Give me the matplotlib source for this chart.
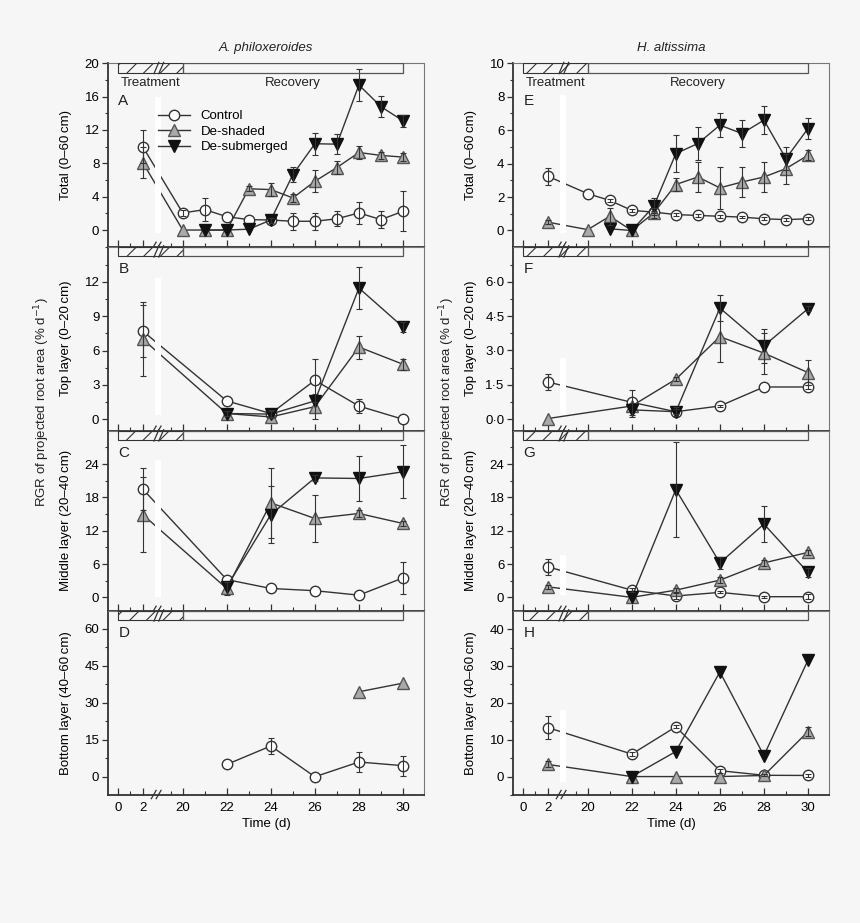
import numpy as np
import matplotlib
matplotlib.use('Agg')
import matplotlib.pyplot as plt
from matplotlib.patches import Rectangle
from matplotlib.lines import Line2D
from matplotlib.ticker import FixedLocator, FuncFormatter

plt.rcParams['font.family'] = ['Liberation Sans', 'DejaVu Sans']
plt.rcParams['hatch.linewidth'] = 0.8

nan = np.nan

# 날짜 (x축)
days_daily = [2, 20, 21, 22, 23, 24, 25, 26, 27, 28, 29, 30]
days_alt = [2, 22, 24, 26, 28, 30]
days_bot = [22, 24, 26, 28, 30]

major_days = [0, 2, 20, 22, 24, 26, 28, 30]
minor_days = [1, 19, 21, 23, 25, 27, 29]

# ---- A. philoxeroides ----
a_ctrl = [10.0, 2.05, 2.45, 1.6, 1.25, 1.2, 1.05, 1.05, 1.35, 2.05, 1.25, 2.25]
a_ctrl_e = [2.0, 0.4, 1.4, nan, nan, nan, 1.0, 1.0, 0.9, 1.3, 1.0, 2.4]
a_shad = [8.1, 0.0, 0.0, 0.0, 4.95, 4.85, 3.85, 5.85, 7.5, 9.3, 8.95, 8.75]
a_shad_e = [1.8, nan, nan, nan, 0.3, 0.8, 0.5, 1.3, 0.8, 0.8, 0.4, 0.5]
a_sub = [nan, nan, 0.0, 0.0, 0.1, 1.2, 6.65, 10.35, 10.3, 17.4, 14.8, 13.1]
a_sub_e = [nan, nan, nan, nan, nan, 0.3, 0.9, 1.3, 1.2, 1.9, 1.3, 0.7]

b_ctrl = [7.7, 1.6, 0.5, 3.4, 1.15, 0.0]
b_ctrl_e = [2.3, nan, 0.3, 1.9, 0.6, nan]
b_shad = [7.0, 0.5, 0.2, 1.1, 6.3, 4.8]
b_shad_e = [3.2, nan, nan, 1.1, 1.0, 0.5]
b_sub = [nan, 0.5, 0.45, 1.6, 11.45, 8.05]
b_sub_e = [nan, 0.2, 0.3, nan, 1.8, 0.4]

c_ctrl = [19.5, 3.2, 1.6, 1.2, 0.4, 3.5]
c_ctrl_e = [3.7, nan, nan, nan, nan, 2.9]
c_shad = [14.9, 1.6, 17.0, 14.2, 15.1, 13.3]
c_shad_e = [6.8, 1.2, 6.3, 4.3, 0.6, 0.5]
c_sub = [nan, 1.9, 14.9, 21.5, 21.4, 22.6]
c_sub_e = [nan, nan, 5.2, 0.6, 4.1, 4.8]

d_ctrl = [5.0, 12.5, 0.0, 6.0, 4.5]
d_ctrl_e = [nan, 3.4, nan, 4.0, 4.0]
d_shad = [nan, nan, nan, 34.5, 38.0]
d_shad_e = [nan, nan, nan, nan, nan]
d_sub = [nan, nan, nan, nan, nan]
d_sub_e = [nan, nan, nan, nan, nan]

# ---- H. altissima ----
e_ctrl = [3.25, 2.2, 1.8, 1.2, 1.1, 0.95, 0.9, 0.85, 0.8, 0.7, 0.65, 0.7]
e_ctrl_e = [0.5, nan, 0.08, 0.08, 0.08, 0.08, 0.08, 0.08, 0.08, 0.08, 0.08, 0.08]
e_shad = [0.5, 0.05, 0.85, 0.0, 1.05, 2.75, 3.2, 2.55, 2.9, 3.2, 3.7, 4.5]
e_shad_e = [0.1, nan, 0.5, nan, 0.3, 0.4, 0.9, 1.25, 0.9, 0.9, 0.9, 0.3]
e_sub = [nan, nan, 0.1, 0.0, 1.45, 4.6, 5.2, 6.3, 5.8, 6.6, 4.3, 6.1]
e_sub_e = [nan, nan, nan, nan, 0.5, 1.1, 1.0, 0.7, 0.8, 0.85, 0.7, 0.6]

f_ctrl = [1.62, 0.73, 0.32, 0.57, 1.4, 1.4]
f_ctrl_e = [0.35, 0.55, 0.1, 0.05, nan, 0.1]
f_shad = [0.02, 0.57, 1.74, 3.6, 2.88, 2.03]
f_shad_e = [nan, nan, 0.1, 1.1, 0.9, 0.55]
f_sub = [nan, 0.4, 0.32, 4.85, 3.2, 4.82]
f_sub_e = [nan, 0.3, 0.2, 0.55, 0.75, 0.1]

g_ctrl = [5.5, 1.3, 0.25, 0.9, 0.12, 0.12]
g_ctrl_e = [1.4, 0.3, 0.5, 0.2, 0.2, 0.5]
g_shad = [1.9, 0.0, 1.3, 3.1, 6.2, 8.1]
g_shad_e = [0.4, nan, 0.4, 0.6, 0.5, 0.4]
g_sub = [nan, 0.0, 19.4, 6.2, 13.2, 4.5]
g_sub_e = [nan, nan, 8.5, 1.1, 3.2, 0.8]

h_ctrl = [13.3, 6.1, 13.5, 1.6, 0.35, 0.3]
h_ctrl_e = [3.0, 0.5, 0.4, 0.5, 0.3, 0.3]
h_shad = [3.3, 0.0, 0.0, 0.0, 0.3, 12.2]
h_shad_e = [0.8, nan, nan, nan, nan, 1.2]
h_sub = [nan, 0.0, 6.8, 28.4, 5.7, 31.6]
h_sub_e = [nan, nan, nan, nan, nan, nan]

series_names = ['Control', 'De-shaded', 'De-submerged']

# 패널 설정: (col,row), days, series, ylim, yticks, ylabel, letter, mask
panels = [
    (0, 0, days_daily, [(a_ctrl, a_ctrl_e), (a_shad, a_shad_e), (a_sub, a_sub_e)],
     (-2, 20), [0, 4, 8, 12, 16, 20], 'Total (0–60\u2009cm)', 'A', (-0.3, 16.0)),
    (0, 1, days_alt, [(b_ctrl, b_ctrl_e), (b_shad, b_shad_e), (b_sub, b_sub_e)],
     (-1, 15.06), [0, 3, 6, 9, 12], 'Top layer (0–20\u2009cm)', 'B', (0.35, 12.3)),
    (0, 2, days_alt, [(c_ctrl, c_ctrl_e), (c_shad, c_shad_e), (c_sub, c_sub_e)],
     (-2.4, 30), [0, 6, 12, 18, 24], 'Middle layer (20–40\u2009cm)', 'C', (0.05, 24.7)),
    (0, 3, days_bot, [(d_ctrl, d_ctrl_e), (d_shad, d_shad_e), (d_sub, d_sub_e)],
     (-7.4, 67.4), [0, 15, 30, 45, 60], 'Bottom layer (40–60\u2009cm)', 'D', None),
    (1, 0, days_daily, [(e_ctrl, e_ctrl_e), (e_shad, e_shad_e), (e_sub, e_sub_e)],
     (-0.97, 10), [0, 2, 4, 6, 8, 10], 'Total (0–60\u2009cm)', 'E', (-0.14, 8.1)),
    (1, 1, days_alt, [(f_ctrl, f_ctrl_e), (f_shad, f_shad_e), (f_sub, f_sub_e)],
     (-0.51, 7.53), [0, 1.5, 3, 4.5, 6], 'Top layer (0–20\u2009cm)', 'F', (0.18, 2.67)),
    (1, 2, days_alt, [(g_ctrl, g_ctrl_e), (g_shad, g_shad_e), (g_sub, g_sub_e)],
     (-2.4, 30), [0, 6, 12, 18, 24], 'Middle layer (20–40\u2009cm)', 'G', (0.4, 7.6)),
    (1, 3, days_alt, [(h_ctrl, h_ctrl_e), (h_shad, h_shad_e), (h_sub, h_sub_e)],
     (-5, 45), [0, 10, 20, 30, 40], 'Bottom layer (40–60\u2009cm)', 'H', (-1.4, 18.1)),
]


def pos(d):
    # x축이 끊어져 있음: 0-2일은 좁게, 20일 이후는 1일=1칸
    d = np.asarray(d, float)
    return np.where(d <= 10, d * 0.555,
                    np.where(d < 20, 2.927 - (20 - d) * 0.555, 2.927 + (d - 20)))


lc = '#333333'
bg = '#f6f6f6'
styles = [
    dict(marker='o', mfc='white', mec=lc, ms=7.5),
    dict(marker='^', mfc='#a9a9a9', mec='#555555', ms=8),
    dict(marker='v', mfc='#111111', mec='#111111', ms=8),
]

W, H = 860, 923
fig = plt.figure(figsize=(W / 100, H / 100), dpi=100, facecolor=bg)
col_x = [107.7, 512.7]
col_w = 316.6
row_y = [63.3, 246.7, 430.7, 610.7, 795]

for c, r, days, series, ylim, yticks, ylab, letter, mask in panels:
    ph = row_y[r + 1] - row_y[r]
    ax = fig.add_axes([col_x[c] / W, 1 - row_y[r + 1] / H, col_w / W, ph / H])
    ax.set_facecolor(bg)
    x = pos(days)
    for (vals, errs), st in zip(series, styles):
        v = np.array(vals, float)
        e = np.array(errs, float)
        ok = np.isfinite(v)
        if not ok.any():
            continue
        ax.plot(x[ok], v[ok], color=lc, lw=1.0, zorder=3, **st)
        ax.errorbar(x[ok], v[ok], yerr=e[ok], fmt='none', ecolor=lc,
                    elinewidth=0.8, capsize=2, capthick=0.8, zorder=4)

    # 끊긴 부분 가리기 (흰 막대)
    if mask is not None:
        ax.add_patch(Rectangle((1.67, mask[0]), 0.27, mask[1] - mask[0],
                               facecolor='white', edgecolor='none', zorder=5))

    ax.set_xlim(-0.48, 13.895)
    ax.set_ylim(*ylim)
    ax.set_yticks(yticks)
    step = yticks[1] - yticks[0]
    ax.yaxis.set_minor_locator(FixedLocator(np.arange(yticks[0] - step / 2, ylim[1], step)))
    if letter == 'F':
        ax.yaxis.set_major_formatter(FuncFormatter(lambda v, p: ('%.1f' % v).replace('.', '·')))
    ax.xaxis.set_major_locator(FixedLocator(pos(major_days)))
    ax.xaxis.set_minor_locator(FixedLocator(pos(minor_days)))
    if r == 3:
        ax.set_xticklabels([str(d) for d in major_days])
        ax.set_xlabel('Time (d)', fontsize=9.5, labelpad=3)
    else:
        ax.set_xticklabels([])
    ax.tick_params(axis='x', which='both', direction='in', top=False, labelsize=9.5,
                   color=lc, pad=5)
    ax.tick_params(axis='x', which='major', length=5, width=0.9)
    ax.tick_params(axis='x', which='minor', length=3, width=0.8)
    ax.tick_params(axis='y', which='both', direction='out', right=False, labelsize=9.5,
                   color=lc, pad=2)
    ax.tick_params(axis='y', which='major', length=4, width=0.9)
    ax.tick_params(axis='y', which='minor', length=2.5, width=0.8)
    for s in ['left', 'bottom']:
        ax.spines[s].set_linewidth(1.3)
        ax.spines[s].set_color(lc)
    for s in ['top', 'right']:
        ax.spines[s].set_linewidth(0.8)
        ax.spines[s].set_color('#777777')

    ax.set_ylabel(ylab, fontsize=9.5)
    ax.yaxis.set_label_coords(-0.113, 0.5)

    # 위쪽 처리/회복 막대
    bh = 9.4 / ph
    tr = ax.get_xaxis_transform()
    ax.add_patch(Rectangle((pos(0), 1 - bh), pos(20) - pos(0), bh, transform=tr,
                           facecolor='none', edgecolor='#333333', hatch='//', lw=0.8,
                           zorder=6))
    ax.add_patch(Rectangle((pos(20), 1 - bh), pos(30) - pos(20), bh, transform=tr,
                           facecolor='none', edgecolor='#555555', lw=0.9, zorder=6))
    # 끊김 표시 //
    for dx in [0.0, 0.22]:
        ax.plot([1.62 + dx, 1.84 + dx], [1 - bh - 0.005, 1.005], transform=tr,
                color='#333333', lw=0.9, zorder=7, clip_on=False)
        ax.plot([1.5 + dx, 1.72 + dx], [-0.02, 0.025], transform=tr,
                color='#333333', lw=0.9, zorder=7, clip_on=False)

    top_off = 38 if r == 0 else 22
    ax.text(pos(0), 1 - top_off / ph, letter, transform=tr, fontsize=11,
            ha='left', va='center', color='#222222')
    if r == 0:
        ax.text(1.49, 1 - 19.4 / ph, 'Treatment', transform=tr, fontsize=9.5,
                ha='center', va='center', color='#222222')
        ax.text(7.93, 1 - 19.4 / ph, 'Recovery', transform=tr, fontsize=9.5,
                ha='center', va='center', color='#222222')
        ax.set_title(['A. philoxeroides', 'H. altissima'][c], fontsize=9.5,
                     style='italic', pad=9, color='#222222')
    if letter == 'A':
        handles = [Line2D([], [], color=lc, lw=1.0, **st) for st in styles]
        ax.legend(handles, series_names, loc='upper left', bbox_to_anchor=(0.16, 0.745),
                  frameon=False, fontsize=9.5, handlelength=2.4, handletextpad=0.8,
                  labelspacing=0.25, borderpad=0, borderaxespad=0)

for xf in [42 / W, 447 / W]:
    fig.text(xf, 1 - 402 / H, 'RGR of projected root area (% d$^{-1}$)', rotation=90,
             ha='center', va='center', fontsize=9.5, color='#222222')

fig.savefig('out.png', dpi=100, facecolor=bg)
